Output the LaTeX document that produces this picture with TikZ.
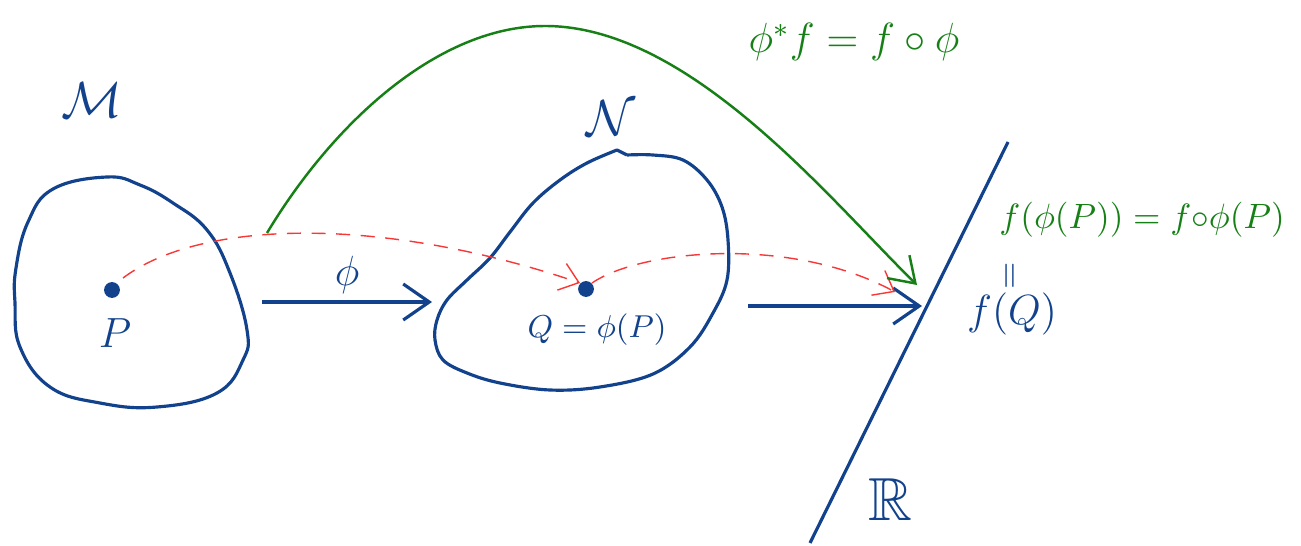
\documentclass[tikz,border=0pt]{standalone}
\usepackage{amsmath,amssymb}
\usetikzlibrary{arrows.meta}
\definecolor{inkblue}{RGB}{18,66,140}
\definecolor{inkgreen}{RGB}{22,128,22}
\definecolor{inkred}{RGB}{250,55,55}

\begin{document}
\begin{tikzpicture}[x=0.01cm,y=-0.01cm,
  blob/.style={draw=inkblue,line width=0.9pt,line join=round},
  lbl/.style={text=inkblue,inner sep=1pt},
  glbl/.style={text=inkgreen,inner sep=1pt},
  pt/.style={circle,fill=inkblue,inner sep=0pt,minimum size=4.5pt},
  arr/.style={-{Straight Barb[length=2.6mm,width=3.6mm]},draw=inkblue,line width=0.9pt},
  garr/.style={-{Straight Barb[length=2.4mm,width=3.2mm]},draw=inkgreen,line width=0.7pt},
  rarr/.style={-{Straight Barb[length=1.8mm,width=2.8mm]},draw=inkred,line width=0.4pt,dash pattern=on 4pt off 3pt}
]
\useasboundingbox (0,0) rectangle (1301,546);

\draw[blob] plot[smooth cycle,tension=0.7] coordinates {(107,177) (140,185) (173,203) (207,230) (230,273) (247,330) (243,360) (217,393) (157,407) (100,403) (50,387) (20,347) (15,303) (16,268) (28,222) (53,189)};
\draw[blob] plot[smooth,tension=0.6] coordinates {(627,155) (653,155) (683,160) (707,180) (722,207) (728,240) (727,280) (713,313) (690,347) (653,374) (600,387) (550,390) (500,383) (467,373) (443,360) (435,340) (437,320) (447,300) (467,280) (490,258) (510,232) (533,203) (560,180) (587,163) (617,150)} -- (627,155);

\node[lbl,font=\Large] (mlab) at (92,100) {$\mathcal{M}$};
\node[lbl,font=\Large] (nlab) at (611,118) {$\mathcal{N}$};
\node[pt] (p) at (112,290) {};
\node[lbl,font=\large] (plab) at (115,333) {$P$};
\node[pt] (q) at (586,289) {};
\node[lbl,font=\small] (qlab) at (597,330) {$Q=\phi(P)$};

\coordinate (m1) at (262,302);
\coordinate (n1) at (432,302);
\draw[arr] (m1) -- node[lbl,font=\large,above=1pt]{$\phi$} (n1);
\coordinate (n2) at (748,306);
\coordinate (r2) at (922,306);
\draw[arr] (n2) -- (r2);

\coordinate (rbot) at (810,543);
\coordinate (rtop) at (1008,142);
\draw[blob] (rbot) -- (rtop);
\node[lbl,font=\LARGE] (rlab) at (890,500) {$\mathbb{R}$};

\node[lbl,font=\large] (fq) at (1012,314) {$f(Q)$};
\node[lbl] (eqv) at (1012,276) {\rotatebox{90}{$=$}};

\coordinate (pp) at (123,278);
\coordinate (qq) at (580,283);
\draw[rarr] (pp) .. controls (200,220) and (380,215) .. (qq);
\coordinate (q2) at (592,283);
\coordinate (fr) at (895,292);
\draw[rarr] (q2) .. controls (640,250) and (790,235) .. (fr);

\coordinate (gs) at (267,233);
\coordinate (gtop) at (545,26);
\coordinate (ge) at (917,285);
\draw[garr] (gs) .. controls (335,120) and (440,26) .. (gtop) .. controls (690,26) and (830,200) .. (ge);

\node[glbl,font=\large] (pull) at (854,42) {$\phi^{*}f=f\circ\phi$};
\node[glbl,font={\fontsize{10.4}{12.5}\selectfont}] (comp) at (1142,220) {$f(\phi(P))=f{\circ}\phi(P)$};
\end{tikzpicture}
\end{document}
